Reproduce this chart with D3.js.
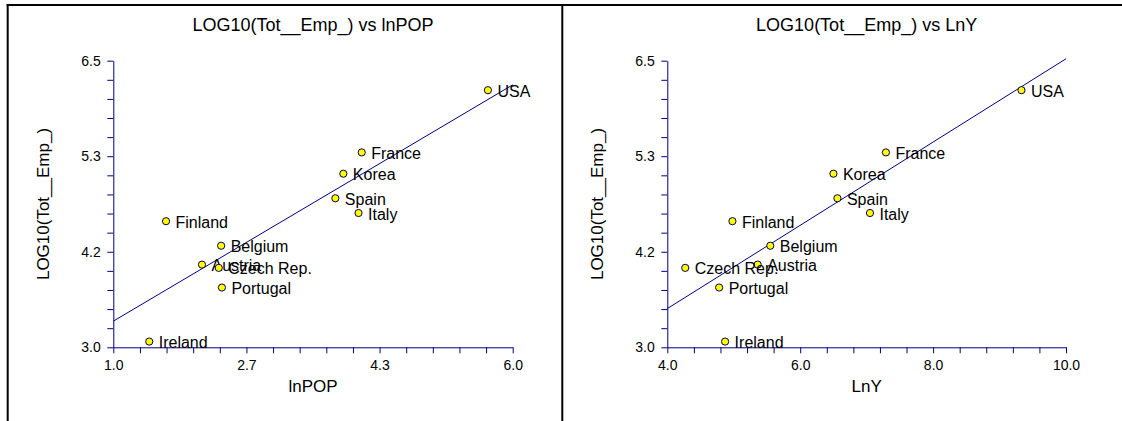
<!DOCTYPE html>
<html>
<head>
<meta charset="utf-8">
<script src="https://cdn.jsdelivr.net/npm/d3@7/dist/d3.min.js"></script>
<style>
  html, body { margin: 0; padding: 0; background: #fff; }
  svg { display: block; }
  text { font-family: "Liberation Sans", Arial, Helvetica, sans-serif; fill: #000; }
</style>
</head>
<body>
<svg id="chart" width="1122" height="421"></svg>
<script>
// Countries and their values
const countries = ["USA", "France", "Korea", "Spain", "Italy", "Finland", "Belgium", "Austria", "Czech Rep.", "Portugal", "Ireland"];
const logTotEmp = [6.14, 5.38, 5.12, 4.82, 4.64, 4.54, 4.24, 4.01, 3.97, 3.73, 3.07];
const lnPOP     = [5.69, 4.11, 3.88, 3.78, 4.07, 1.66, 2.35, 2.11, 2.32, 2.36, 1.45];
const lnY       = [9.33, 7.29, 6.50, 6.56, 7.05, 4.98, 5.55, 5.36, 4.27, 4.78, 4.87];

// Axis ranges and labelled ticks
const yDomain = [3.0, 6.5];
const yTickLabels = ["3.0", "4.2", "5.3", "6.5"];
const popDomain = [1.0, 6.0];
const popTickLabels = ["1.0", "2.7", "4.3", "6.0"];
const gdpDomain = [4.0, 10.0];
const gdpTickLabels = ["4.0", "6.0", "8.0", "10.0"];

const yName = "LOG10(Tot__Emp_)";

const panels = [
  { title: "LOG10(Tot__Emp_) vs lnPOP", xName: "lnPOP", xs: lnPOP, xDomain: popDomain, xLabels: popTickLabels,
    left: 113.3, right: 512.7, yTitleX: 49 },
  { title: "LOG10(Tot__Emp_) vs LnY", xName: "LnY", xs: lnY, xDomain: gdpDomain, xLabels: gdpTickLabels,
    left: 667.3, right: 1066, yTitleX: 603 }
];

const plotTop = 60.7, plotBottom = 347.3;
const axisColor = "#000080";
const svg = d3.select("#chart");

// Outer frame and divider
const frame = svg.append("g").attr("stroke", "#000").attr("stroke-width", 2);
frame.append("line").attr("x1", 6.7).attr("x2", 1122).attr("y1", 5).attr("y2", 5);
frame.append("line").attr("x1", 7.7).attr("x2", 7.7).attr("y1", 4).attr("y2", 421);
frame.append("line").attr("x1", 562.3).attr("x2", 562.3).attr("y1", 4).attr("y2", 421);

// 15 equal steps across each axis, a label every fifth tick
function stepTicks(domain) {
  return d3.range(16).map(i => domain[0] + i * (domain[1] - domain[0]) / 15);
}

function fitLine(xs, ys) {
  const mx = d3.mean(xs), my = d3.mean(ys);
  let sxy = 0, sxx = 0;
  xs.forEach((x, i) => { sxy += (x - mx) * (ys[i] - my); sxx += (x - mx) * (x - mx); });
  const b = sxy / sxx;
  return x => my + b * (x - mx);
}

panels.forEach(p => {
  const g = svg.append("g");
  const x = d3.scaleLinear().domain(p.xDomain).range([p.left, p.right]);
  const y = d3.scaleLinear().domain(yDomain).range([plotBottom, plotTop]);

  // Title
  g.append("text")
    .attr("x", (p.left + p.right) / 2).attr("y", 30.5)
    .attr("text-anchor", "middle").attr("font-size", 18)
    .text(p.title);

  // Axes
  const xTicks = stepTicks(p.xDomain);
  const yTicks = stepTicks(yDomain);
  const xAxis = d3.axisBottom(x).tickValues(xTicks).tickSize(6).tickSizeOuter(0).tickPadding(6.7)
    .tickFormat((d, i) => i % 5 === 0 ? p.xLabels[i / 5] : "");
  const yAxis = d3.axisLeft(y).tickValues(yTicks).tickSize(6).tickSizeOuter(0).tickPadding(6.6)
    .tickFormat((d, i) => i % 5 === 0 ? yTickLabels[i / 5] : "");

  const gx = g.append("g").attr("transform", `translate(0,${plotBottom})`).call(xAxis);
  const gy = g.append("g").attr("transform", `translate(${p.left},0)`).call(yAxis);
  [gx, gy].forEach(a => {
    a.selectAll("path.domain").attr("stroke", axisColor).attr("stroke-width", 1);
    a.selectAll(".tick line").attr("stroke", axisColor).attr("stroke-width", 1);
    a.selectAll(".tick text").attr("font-size", 14).attr("fill", "#000")
      .style("font-family", '"Liberation Sans", Arial, sans-serif');
  });

  // Axis titles
  g.append("text")
    .attr("x", (p.left + p.right) / 2).attr("y", 391.5)
    .attr("text-anchor", "middle").attr("font-size", 17)
    .text(p.xName);
  g.append("text")
    .attr("transform", `translate(${p.yTitleX},${(plotTop + plotBottom) / 2}) rotate(-90)`)
    .attr("text-anchor", "middle").attr("font-size", 17)
    .text(yName);

  // Least-squares fit across the full x range
  const f = fitLine(p.xs, logTotEmp);
  g.append("line")
    .attr("x1", x(p.xDomain[0])).attr("y1", y(f(p.xDomain[0])))
    .attr("x2", x(p.xDomain[1])).attr("y2", y(f(p.xDomain[1])))
    .attr("stroke", axisColor).attr("stroke-width", 1);

  // Points with country labels
  countries.forEach((c, i) => {
    const cx = x(p.xs[i]), cy = y(logTotEmp[i]);
    g.append("circle").attr("cx", cx).attr("cy", cy).attr("r", 3.6)
      .attr("fill", "#ffff00").attr("stroke", "#000050").attr("stroke-width", 1);
    g.append("text").attr("x", cx + 9.5).attr("y", cy + 6.5)
      .attr("font-size", 16).text(c);
  });
});
</script>
</body>
</html>
